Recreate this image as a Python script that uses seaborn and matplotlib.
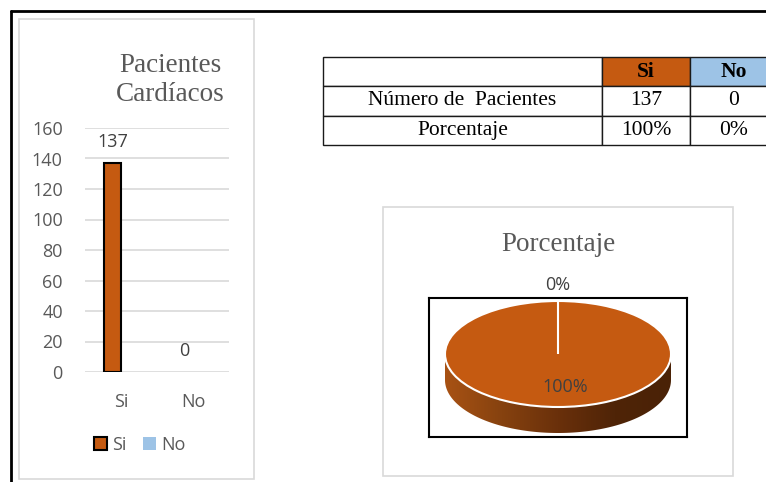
import numpy as np
import pandas as pd
import matplotlib
matplotlib.use("Agg")
import matplotlib.pyplot as plt
import seaborn as sns
from matplotlib.patches import Rectangle, Polygon, Patch
from matplotlib.lines import Line2D
from matplotlib.colors import LinearSegmentedColormap

# ---------------- data ----------------
categorias = ["Si", "No"]
serie_si = [137, 0]          # bar series "Si"
serie_no = [0, 0]            # bar series "No"
fila_labels = ["Número de  Pacientes", "Porcentaje"]
pacientes = [137, 0]
porcentaje = [100, 0]
titulo_barras = ["Pacientes", "Cardíacos"]
titulo_pie = "Porcentaje"
yticks = [0, 20, 40, 60, 80, 100, 120, 140, 160]

C_SI = "#C55A11"
C_NO = "#9DC3E6"
GREY_TXT = "#595959"
SANS = "Open Sans"
SERIF = "Liberation Serif"
FS = 13

sns.set_theme(style="white")
plt.rcParams["font.family"] = [SANS, "DejaVu Sans"]

W, H = 766, 482
fig = plt.figure(figsize=(W / 100, H / 100), dpi=100)
fig.patch.set_facecolor("white")


def fx(x):
    return x / W


def fy(y):
    return 1 - y / H


def px_axes(x0, y0, x1, y1):
    return fig.add_axes([x0 / W, 1 - y1 / H, (x1 - x0) / W, (y1 - y0) / H])


# ---------------- frames ----------------
fig.add_artist(Line2D([fx(11), fx(11)], [fy(11), fy(490)], color="black", lw=2,
                      transform=fig.transFigure))
fig.add_artist(Line2D([fx(11), fx(780)], [fy(11), fy(11)], color="black", lw=2,
                      transform=fig.transFigure))
fig.add_artist(Rectangle((fx(19), fy(479)), (254 - 19) / W, (479 - 19) / H, fill=False,
                         ec="#D9D9D9", lw=1.2, transform=fig.transFigure))
fig.add_artist(Rectangle((fx(383), fy(476)), (733 - 383) / W, (476 - 207) / H, fill=False,
                         ec="#D9D9D9", lw=1.2, transform=fig.transFigure))

# ---------------- bar chart ----------------
df = pd.DataFrame({
    "categoria": categorias * 2,
    "serie": ["Si"] * len(categorias) + ["No"] * len(categorias),
    "valor": serie_si + serie_no,
})
axb = px_axes(85, 128, 229, 372)
sns.barplot(data=df, x="categoria", y="valor", hue="serie", order=categorias,
            hue_order=["Si", "No"], palette={"Si": C_SI, "No": C_NO},
            width=0.47, errorbar=None, edgecolor="black", linewidth=1.5,
            saturation=1, legend=False, ax=axb)
for p in axb.patches:
    if p.get_height() == 0:
        p.set_linewidth(0)
axb.bar_label(axb.containers[0], padding=8.5, color="#404040", fontsize=FS,
              fontfamily=SANS)
axb.set_ylim(0, 160)
axb.set_yticks(yticks)
axb.set_xlabel("")
axb.set_ylabel("")
axb.yaxis.grid(True, color="#D9D9D9", lw=1.2)
axb.set_axisbelow(True)
for s in axb.spines.values():
    s.set_visible(False)
axb.tick_params(axis="y", length=0, pad=16, labelsize=FS, labelcolor=GREY_TXT)
axb.tick_params(axis="x", length=0, pad=15, labelsize=FS, labelcolor=GREY_TXT)
axb.patch.set_alpha(0)

fig.text(fx(170), fy(72), titulo_barras[0], ha="center", va="baseline",
         family=SERIF, size=19.5, color=GREY_TXT)
fig.text(fx(170), fy(101), titulo_barras[1], ha="center", va="baseline",
         family=SERIF, size=19.5, color=GREY_TXT)

handles = [Patch(facecolor=C_SI, edgecolor="black", lw=1.5, label="Si"),
           Patch(facecolor=C_NO, edgecolor="none", label="No")]
fig.legend(handles=handles, loc="center", bbox_to_anchor=(fx(140), fy(445)),
           ncol=2, frameon=False, handlelength=0.7, handleheight=0.7,
           handletextpad=0.3, columnspacing=0.9, fontsize=FS,
           labelcolor=GREY_TXT)

# ---------------- table ----------------
axt = px_axes(323, 57, 778, 145)
axt.axis("off")
cell_text = [[fila_labels[0], f"{pacientes[0]}", f"{pacientes[1]}"],
             [fila_labels[1], f"{porcentaje[0]}%", f"{porcentaje[1]}%"]]
tab = axt.table(cellText=cell_text, colLabels=[""] + categorias,
                colWidths=[279 / 455, 88 / 455, 88 / 455], bbox=[0, 0, 1, 1],
                cellLoc="center")
tab.auto_set_font_size(False)
for (r, c), cell in tab.get_celld().items():
    cell.set_edgecolor("#1a1a1a")
    cell.set_linewidth(1.0)
    cell.set_text_props(fontfamily=SERIF, fontsize=15.5, color="black")
    if r == 0:
        if c == 1:
            cell.set_facecolor(C_SI)
        elif c == 2:
            cell.set_facecolor(C_NO)
        cell.set_text_props(fontweight="bold")

# ---------------- pie ----------------
fig.text(fx(558), fy(251), titulo_pie, ha="center", va="baseline",
         family=SERIF, size=19.5, color=GREY_TXT)

axp = px_axes(429, 298, 687, 437)
rx, ry, cxp, cyp = 113.0, 53.0, 558.0, 354.0
d = 26.0 / ry
theta = np.linspace(np.pi, 2 * np.pi, 200)
lower = np.column_stack([np.cos(theta), np.sin(theta) - d])
upper = np.column_stack([np.cos(theta[::-1]), np.sin(theta[::-1])])
poly = Polygon(np.vstack([lower, upper]), closed=True, fc="none", ec="none")
axp.add_patch(poly)
cmap = LinearSegmentedColormap.from_list(
    "side", ["#A85214", "#86420F", "#6A300B", "#4F2407", "#4A2206"])
grad = np.linspace(0, 1, 256).reshape(1, -1)
im = axp.imshow(grad, extent=[-1, 1, -1 - d, 0], cmap=cmap, aspect="auto",
                origin="lower", zorder=1)
im.set_clip_path(poly)

wedges, _ = axp.pie(porcentaje, colors=[C_SI, C_NO], startangle=90,
                    counterclock=False,
                    wedgeprops=dict(edgecolor="white", linewidth=1.5))
for w in wedges:
    w.set_zorder(2)

axp.set_aspect("auto")
axp.set_xlim((429 - cxp) / rx, (687 - cxp) / rx)
axp.set_ylim((cyp - 437) / ry, (cyp - 298) / ry)
axp.set_frame_on(True)
axp.set_xticks([])
axp.set_yticks([])
for s in axp.spines.values():
    s.set_visible(True)
    s.set_color("black")
    s.set_linewidth(1.5)

axp.text(0, (cyp - 285) / ry, f"{porcentaje[1]}%", ha="center", va="center",
         fontsize=FS, color="#404040", clip_on=False, zorder=5)
axp.text(7 / rx, (cyp - 387) / ry, f"{porcentaje[0]}%", ha="center", va="center",
         fontsize=FS, color="#404040", zorder=5)

fig.savefig("out.png", dpi=100)
